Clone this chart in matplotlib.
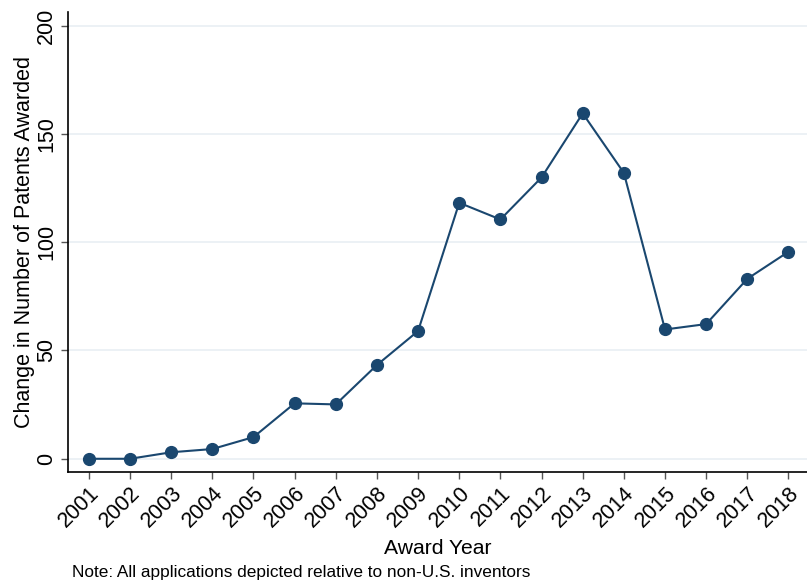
import numpy as np
import matplotlib
matplotlib.use('Agg')
import matplotlib.pyplot as plt

plt.rcParams['font.family'] = ['Liberation Sans', 'DejaVu Sans']

years = [2001, 2002, 2003, 2004, 2005, 2006, 2007, 2008, 2009,
         2010, 2011, 2012, 2013, 2014, 2015, 2016, 2017, 2018]
change = [0.0, 0.0, 3.0, 4.5, 10.0, 25.6, 25.1, 43.3, 59.0,
          118.2, 110.5, 129.9, 159.5, 132.0, 59.7, 62.2, 83.1, 95.6]
y_ticks = [0, 50, 100, 150, 200]

navy = '#1a476f'

fig = plt.figure(figsize=(8.07, 5.81), dpi=100)
ax = fig.add_axes([0.0846, 0.188, 0.9154, 0.791])

ax.plot(years, change, color=navy, linewidth=1.5, marker='o',
        markersize=8.5, markerfacecolor=navy, markeredgecolor=navy, zorder=3)

ax.set_xlim(2000.5, 2018.45)
ax.set_ylim(-6.0, 206.2)
ax.set_yticks(y_ticks)
ax.set_xticks(years)
ax.set_xticklabels([str(y) for y in years], rotation=45, ha='right',
                   rotation_mode='anchor', fontsize=15.5)
ax.set_yticklabels([str(v) for v in y_ticks], rotation=90, va='center',
                   fontsize=15.5)

for v in y_ticks:
    ax.axhline(v, color='#eaf0f4', linewidth=1.3, zorder=1)

for side in ['top', 'right']:
    ax.spines[side].set_visible(False)
for side in ['left', 'bottom']:
    ax.spines[side].set_linewidth(1.2)
    ax.spines[side].set_color('black')

ax.tick_params(axis='both', direction='out', length=5, width=1.0,
               color='#555555', pad=3)

ax.set_xlabel('Award Year', fontsize=15.2, labelpad=5)
ax.set_ylabel('Change in Number of Patents Awarded', fontsize=15.5,
              labelpad=1)

fig.text(0.089, 0.002, 'Note: All applications depicted relative to non-U.S. inventors',
         fontsize=12.4, ha='left', va='bottom')

fig.savefig('out.png', dpi=100)
